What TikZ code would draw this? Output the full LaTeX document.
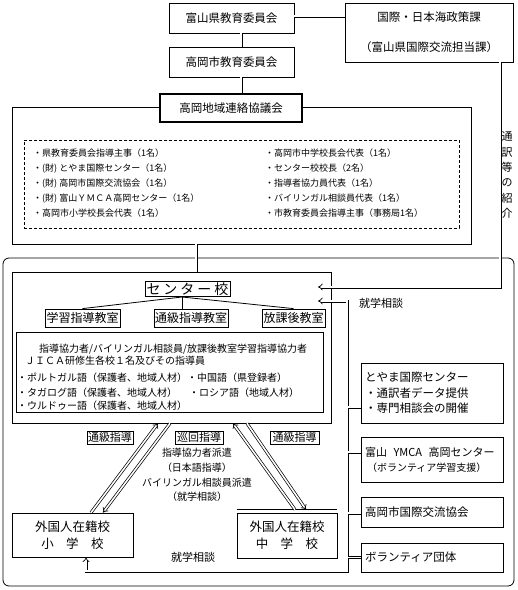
\documentclass[tikz,border=0pt]{standalone}
\usepackage{fontspec}
\setmainfont{Noto Sans CJK JP}
\usetikzlibrary{arrows.meta}
\begin{document}
\begin{tikzpicture}[x=1pt,y=-1pt,
  bx/.style={draw, line width=0.8pt, inner sep=0pt, align=center, fill=white},
  dbl/.style={double, line width=0.7pt, double distance=1.6pt},
  tip/.style={-{Implies}},
  txt/.style={inner sep=0pt, anchor=west},
  f9/.style={font=\fontsize{9}{14.85}\selectfont},
  f10/.style={font=\fontsize{10}{12}\selectfont},
  f11/.style={font=\fontsize{11}{11}\selectfont},
  f115/.style={font=\fontsize{11.5}{14}\selectfont},
]
\useasboundingbox (0,0) rectangle (518,590);

% large rounded area
\node[draw, rounded corners=6pt, line width=0.8pt, minimum width=511pt, minimum height=328pt, inner sep=0pt] (area) at (258.5,422) {};

% top organisations
\node[bx, f115, minimum width=125pt, minimum height=30pt] (ken) at (231.5,18) {富山県教育委員会};
\node[bx, font=\fontsize{11.5}{14}\selectfont, minimum width=168pt, minimum height=59pt] (kokusai) at (429,32.5) {国際・日本海政策課\\[16pt]（富山県国際交流担当課）};
\node[bx, f115, minimum width=125pt, minimum height=30pt] (shi) at (231.5,62) {高岡市教育委員会};

% council
\node[draw, line width=0.8pt, minimum width=459pt, minimum height=137pt, inner sep=0pt] (outer) at (241.5,175.5) {};
\node[bx, f115, line width=2.5pt, minimum width=142pt, minimum height=28pt] (kyogikai) at (231,108) {高岡地域連絡協議会};
\node[draw, line width=0.7pt, dash pattern=on 3pt off 2pt, minimum width=435pt, minimum height=88pt, inner sep=0pt] (members) at (241.5,184) {};
\node[txt, f9, align=left] (mleft) at (33,183) {・県教育委員会指導主事（1名）\\・(財) とやま国際センター（1名）\\・(財) 高岡市国際交流協会（1名）\\・(財) 富山ＹＭＣＡ高岡センター（1名）\\・高岡市小学校長会代表（1名）};
\node[txt, f9, align=left] (mright) at (265,183) {・高岡市中学校長会代表（1名）\\・センター校校長（2名）\\・指導者協力員代表（1名）\\・バイリンガル相談員代表（1名）\\・市教育委員会指導主事（事務局1名）};

% vertical label
\node[inner sep=0pt, align=center, font=\fontsize{11}{15.3}\selectfont] (tsuyaku) at (507,175) {通\\訳\\等\\の\\紹\\介};

% centre school
\node[bx, minimum width=319pt, minimum height=151pt] (ctr) at (171.5,347.5) {};
\node[bx, font=\fontsize{14}{14}\selectfont, minimum width=85pt, minimum height=15pt] (cs) at (187.5,289) {セ\hspace{3pt}ン\hspace{3pt}タ\hspace{3pt}ー\hspace{3pt}校};
\node[bx, font=\fontsize{12}{12}\selectfont, minimum width=75pt, minimum height=18pt] (gakushu) at (82.5,318) {学習指導教室};
\node[bx, font=\fontsize{12}{12}\selectfont, minimum width=74pt, minimum height=18pt] (tsukyu) at (191,318) {通級指導教室};
\node[bx, font=\fontsize{12}{12}\selectfont, minimum width=63pt, minimum height=18pt] (hokago) at (293.5,318) {放課後教室};
\coordinate (tr) at (182,297);
\draw[line width=0.8pt] (tr) -- (gakushu.north);
\draw[line width=0.8pt] (tr) -- (tr |- tsukyu.north);
\draw[line width=0.8pt] (tr) -- (hokago.north);

\node[bx, minimum width=307pt, minimum height=80pt] (staff) at (169.5,372) {};
\node[txt, f10] (s1) at (39,349) {指導協力者/バイリンガル相談員/放課後教室学習指導協力者};
\node[txt, f10] (s2) at (25,361) {ＪＩＣＡ研修生各校１名及びその指導員};
\node[txt, f10] (s3) at (17,378) {・ポルトガル語（保護者、地域人材）・中国語（県登録者）};
\node[txt, f10] (s4) at (17,393) {・タガログ語（保護者、地域人材）\hspace{1.2em}・ロシア語（地域人材）};
\node[txt, f10] (s5) at (17,406) {・ウルドゥー語（保護者、地域人材）};

% triangle labels
\node[bx, f11, minimum width=46pt, minimum height=13pt] (t1) at (110,437.5) {通級指導};
\node[bx, f11, minimum width=48pt, minimum height=13pt] (t2) at (199,437.5) {巡回指導};
\node[bx, f11, minimum width=49pt, minimum height=13pt] (t3) at (294.5,437.5) {通級指導};
\node[inner sep=0pt, align=center, font=\fontsize{10}{14.7}\selectfont] (haken) at (197,475) {指導協力者派遣\\（日本語指導）\\バイリンガル相談員派遣\\（就学相談）};

% schools
\node[bx, font=\fontsize{12.5}{17}\selectfont, minimum width=121pt, minimum height=44pt] (sho) at (72.5,535) {外国人在籍校\\小\hspace{1em}学\hspace{1em}校};
\node[bx, font=\fontsize{12.5}{17}\selectfont, minimum width=100pt, minimum height=45pt] (chu) at (287,535.5) {外国人在籍校\\中\hspace{1em}学\hspace{1em}校};
\draw[line width=0.8pt] ([yshift=3pt]chu.north west) -- ([yshift=3pt]chu.north east);

\node[inner sep=0pt, f11] (sj1) at (381,303) {就学相談};
\node[inner sep=0pt, f11] (sj2) at (193,557) {就学相談};

% right organisations
\node[bx, font=\fontsize{11.5}{15.5}\selectfont, minimum width=142pt, minimum height=60pt, text width=134pt, inner xsep=4pt, align=left] (toyama) at (432,393) {とやま国際センター\\・通訳者データ提供\\・専門相談会の開催};
\node[bx, font=\fontsize{10}{15}\selectfont, minimum width=142pt, minimum height=45pt, text width=134pt, inner xsep=4pt, align=left] (ymca) at (432,459.5) {{\fontsize{11}{15}\selectfont 富山\hspace{0.6em}YMCA\hspace{0.6em}高岡センター}\\\hspace{0.2em}（ボランティア学習支援）};
\node[bx, f115, minimum width=142pt, minimum height=30pt, text width=134pt, inner xsep=4pt, align=left] (kyoryu) at (432,512) {高岡市国際交流協会};
\node[bx, f115, minimum width=142pt, minimum height=29pt, text width=134pt, inner xsep=4pt, align=left] (vol) at (432,557.5) {ボランティア団体};

% double connectors
\draw[dbl] ([yshift=2pt]ken.east) -- ([yshift=2pt]ken.east -| kokusai.west);
\draw[dbl] ([xshift=9.5pt]ken.south) -- ([xshift=9.5pt]shi.north);
\draw[dbl] ([xshift=9.5pt]shi.south) -- ([xshift=10pt]kyogikai.north);
\draw[dbl] ([xshift=-45.5pt]outer.south) -- ([xshift=24.5pt]ctr.north);

\coordinate (a1) at (318,287);
\draw[dbl, tip] ([xshift=71pt]kokusai.south) |- (a1);

\coordinate (a2) at (318,301);
\coordinate (b1) at (347,301);
\coordinate (b2) at (347,571);
\coordinate (b3) at (86,571);
\draw[dbl, {Implies}-{Implies}] (a2) -- (b1) -- (b2) -- (b3) -- ([xshift=13.5pt]sho.south);

\coordinate (vb) at (348,0);
\draw[dbl] ([yshift=-14pt]toyama.west) -- ([yshift=-14pt]toyama.west -| vb);
\draw[dbl] ([yshift=7.5pt]ymca.west) -- ([yshift=7.5pt]ymca.west -| vb);
\draw[dbl] ([yshift=-1pt]kyoryu.west) -- ([yshift=-1pt]kyoryu.west -| vb);
\draw[dbl] (vol.west) -- (vol.west -| vb);

% triangle arrows
\draw[dbl, tip] ([xshift=18.5pt]sho.north) -- ([xshift=-13.5pt]ctr.south);
\draw[dbl, tip] ([xshift=-1.5pt]ctr.south) -- ([xshift=30.5pt]sho.north);
\draw[dbl, tip] ([xshift=8pt,yshift=3pt]chu.north) -- ([xshift=61.5pt]ctr.south);
\draw[dbl, tip] ([xshift=75.5pt]ctr.south) -- ([xshift=19pt,yshift=3pt]chu.north);
\end{tikzpicture}
\end{document}
